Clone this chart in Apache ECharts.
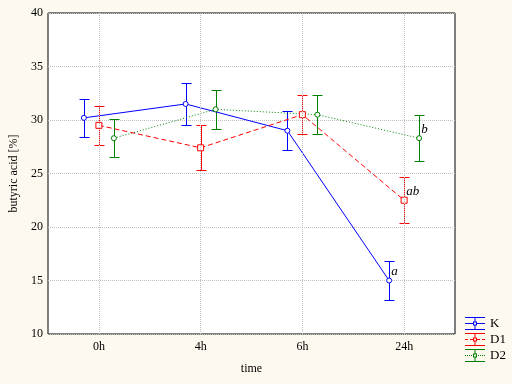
<!DOCTYPE html>
<html><head><meta charset="utf-8">
<script src="https://cdn.jsdelivr.net/npm/echarts@6/dist/echarts.min.js"></script>
<style>html,body{margin:0;padding:0;background:#FDF9EE}#c{width:512px;height:384px}</style>
</head><body><div id="c"></div>
<script>
const categories = ['0h', '4h', '6h', '24h'];
const yTicks = [10, 15, 20, 25, 30, 35, 40];
const seriesNames = ['K', 'D1', 'D2'];
const kMean = [30.2, 31.5, 29.0, 15.0];
const kErr = [1.8, 2.0, 1.8, 1.8];
const d1Mean = [29.5, 27.4, 30.5, 22.5];
const d1Err = [1.8, 2.1, 1.85, 2.15];
const d2Mean = [28.3, 31.0, 30.5, 28.3];
const d2Err = [1.8, 1.85, 1.85, 2.15];
const kLetters = ['', '', '', 'a'];
const d1Letters = ['', '', '', 'ab'];
const d2Letters = ['', '', '', 'b'];

const FONT = '"Liberation Serif", "DejaVu Serif", serif';
const colors = ['#0000FF', '#FF0000', '#008000'];
const offsets = [-15 / 101.75, 0, 15 / 101.75];
const means = [kMean, d1Mean, d2Mean];
const errs = [kErr, d1Err, d2Err];
const letters = [kLetters, d1Letters, d2Letters];
const symbols = ['circle', 'rect', 'circle'];
const symSizes = [5, 6, 5];
const dashes = ['solid', [5, 3], [1, 2]];

function rect(x, y, w, h) { return 'M' + x + ' ' + y + 'H' + (x + w) + 'V' + (y + h) + 'H' + x + 'Z'; }
function iconPath(kind) {
  let p = rect(0, 0, 20, 1) + rect(0, 12, 20, 1) + rect(9.5, 0, 1, 4.5) + rect(9.5, 8.5, 1, 4.5);
  p += 'M8 4.5H12V8.5H8Z M9 5.5V7.5H11V5.5Z';
  if (kind === 0) p += rect(0, 6, 8, 1) + rect(12, 6, 8, 1);
  else if (kind === 1) p += rect(0, 6, 3, 1) + rect(5, 6, 3, 1) + rect(12, 6, 3, 1) + rect(17, 6, 3, 1);
  else { for (let x = 0; x < 8; x += 2) p += rect(x, 6, 1, 1); for (let x = 13; x < 20; x += 2) p += rect(x, 6, 1, 1); }
  return 'path://' + p;
}

const series = [];
seriesNames.forEach((name, s) => {
  const errData = means[s].map((m, i) => [i + offsets[s], m - errs[s][i], m + errs[s][i]]);
  series.push({
    type: 'custom', name: name + '_err', xAxisIndex: 1, z: 2, silent: true,
    itemStyle: { color: colors[s] },
    data: errData,
    renderItem: function (params, api) {
      const x = api.value(0), lo = api.value(1), hi = api.value(2);
      const t = api.coord([x, hi]), b = api.coord([x, lo]);
      const px = Math.round(t[0]) + 0.5, ty = Math.round(t[1]) + 0.5, by = Math.round(b[1]) + 0.5;
      const d = 'M' + px + ' ' + ty + 'L' + px + ' ' + by +
        'M' + (px - 5) + ' ' + ty + 'L' + (px + 5) + ' ' + ty +
        'M' + (px - 5) + ' ' + by + 'L' + (px + 5) + ' ' + by;
      const ch = [
        { type: 'path', shape: { pathData: d }, style: { fill: null, stroke: colors[s], lineWidth: 1 } }
      ];
      const lt = letters[s][params.dataIndex];
      if (lt) {
        const m = api.coord([x, means[s][params.dataIndex]]);
        ch.push({ type: 'text', x: m[0] + 2, y: m[1] - 9, style: { text: lt, fill: '#000', font: 'italic 13px ' + FONT, align: 'left', verticalAlign: 'middle' } });
      }
      return { type: 'group', children: ch };
    }
  });
  series.push({
    type: 'line', name: name, xAxisIndex: 1, z: 3, silent: true,
    data: means[s].map((m, i) => [i + offsets[s], m]),
    symbol: symbols[s], symbolSize: symSizes[s], showAllSymbol: true,
    lineStyle: { color: colors[s], width: 1, type: dashes[s] },
    itemStyle: { color: '#FFFFFF', borderColor: colors[s], borderWidth: 1 },
    emphasis: { disabled: true },
    markLine: s === 0 ? {
      silent: true, symbol: 'none', label: { show: false },
      lineStyle: { color: '#C0C0C0', type: [1, 1], width: 1 },
      data: categories.map((c, i) => ({ xAxis: i }))
    } : undefined
  });
});

const chart = echarts.init(document.getElementById('c'));
chart.setOption({
  animation: false,
  backgroundColor: '#FDF9EE',
  grid: { left: 48, top: 13, right: 57, bottom: 50, show: true, backgroundColor: '#FFFFFF', borderColor: '#000', borderWidth: 1 },
  legend: {
    orient: 'vertical', left: 465, top: 317, padding: 0, itemGap: 3, itemWidth: 20, itemHeight: 13,
    textStyle: { fontFamily: FONT, fontSize: 13, color: '#000' },
    data: seriesNames.map((n, s) => ({ name: n, icon: iconPath(s), itemStyle: { color: colors[s], borderWidth: 0 } })),
    selectedMode: false
  },
  xAxis: [
    {
      type: 'category', data: categories, boundaryGap: true,
      axisLine: { show: false }, axisTick: { show: false }, splitLine: { show: false },
      axisLabel: { fontFamily: FONT, fontSize: 12, color: '#000', margin: 7 },
      name: 'time', nameLocation: 'middle', nameGap: 29,
      nameTextStyle: { fontFamily: FONT, fontSize: 12, color: '#000' }
    },
    { type: 'value', min: -0.5, max: 3.5, show: false }
  ],
  yAxis: {
    type: 'value', min: 10, max: 40, interval: 5,
    axisLine: { show: false }, axisTick: { show: false },
    splitLine: { show: true, lineStyle: { color: '#C0C0C0', type: [1, 1], width: 1 } },
    axisLabel: { fontFamily: FONT, fontSize: 12, color: '#000', margin: 5 },
    name: 'butyric acid [%]', nameLocation: 'middle', nameGap: 27,
    nameTextStyle: { fontFamily: FONT, fontSize: 12, color: '#000' }
  },
  series: series
});
</script></body></html>
